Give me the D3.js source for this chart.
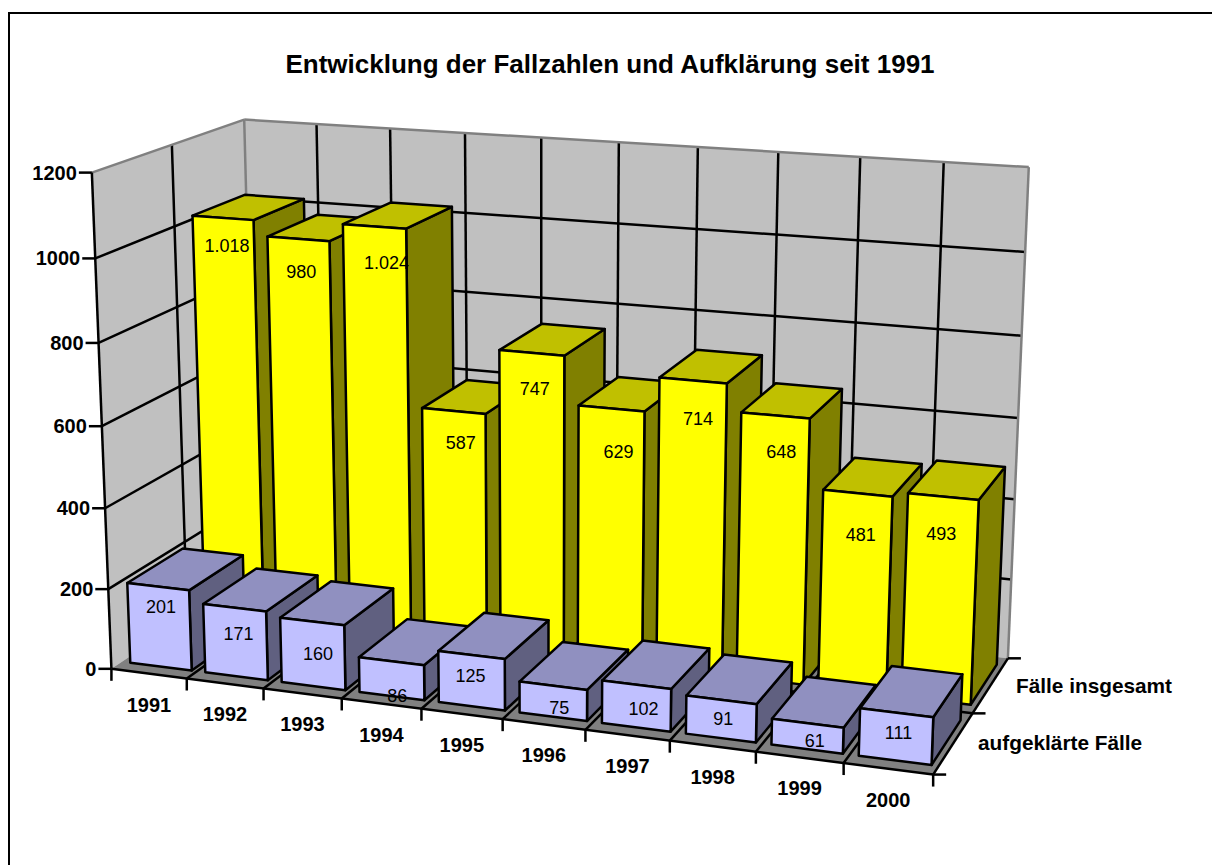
<!DOCTYPE html>
<html><head><meta charset="utf-8">
<script src="https://cdn.jsdelivr.net/npm/d3@7/dist/d3.min.js"></script>
<style>html,body{margin:0;background:#fff}svg{display:block}text{font-family:"Liberation Sans",Arial,sans-serif}</style>
</head><body><svg id="c" width="1212" height="865"></svg>
<script>
const years=["1991","1992","1993","1994","1995","1996","1997","1998","1999","2000"];
const seriesNames=["aufgeklärte Fälle","Fälle insgesamt"];
const aufgeklaert=[201,171,160,86,125,75,102,91,61,111];
const insgesamt=[1018,980,1024,587,747,629,714,648,481,493];
const insgesamtText=["1.018","980","1.024","587","747","629","714","648","481","493"];
const yTicks=[0,200,400,600,800,1000,1200];
// label nudges (px) relative to each bar's projected top-front centre
const nudgeBlue=[[3,20],[4,26],[6,33],[6,35],[-1,21],[6,22],[7,24],[2,19],[7,18],[2,20]];
const nudgeYellow=[[4,28],[3,33],[12,37],[7,32],[3,36],[7,44],[5,38],[6,37],[3,42],[-2,37]];

// camera calibration: unit box (u,v,w) -> screen, fitted projectively
const calib=[[0,0,0,112,668],[1,0,0,933,774],[1,1,0,1008,658],[1,.5,0,973,713],[0,0,1,92,172],[0,1,1,243,119],[1,1,1,1029,167],
[.5,0,0,502,720],[.1,0,0,187,680],[.9,0,0,843,764],[0,0,.5,102,425],[1,1,.5,1018,417],[0,.5,1,172,145],[.1,1,1,317,125],[.9,1,1,944,163]];
function solve(rows,rhs){const n=rows[0].length,A=d3.range(n).map(()=>new Array(n+1).fill(0));
 rows.forEach((r,k)=>{for(let i=0;i<n;i++){for(let j=0;j<n;j++)A[i][j]+=r[i]*r[j];A[i][n]+=r[i]*rhs[k];}});
 for(let i=0;i<n;i++){let p=i;for(let k=i+1;k<n;k++)if(Math.abs(A[k][i])>Math.abs(A[p][i]))p=k;[A[i],A[p]]=[A[p],A[i]];
  for(let k=0;k<n;k++)if(k!==i){const f=A[k][i]/A[i][i];for(let j=i;j<=n;j++)A[k][j]-=f*A[i][j];}}
 return A.map((r,i)=>r[n]/r[i]);}
const rows=[],rhs=[];
calib.forEach(([u,v,w,x,y])=>{rows.push([u,v,w,1,0,0,0,0,-x*u,-x*v,-x*w]);rhs.push(x);rows.push([0,0,0,0,u,v,w,1,-y*u,-y*v,-y*w]);rhs.push(y);});
const m=solve(rows,rhs);
const P=(u,v,w)=>{const d=m[8]*u+m[9]*v+m[10]*w+1;return[(m[0]*u+m[1]*v+m[2]*w+m[3])/d,(m[4]*u+m[5]*v+m[6]*w+m[7])/d];};

const zS=d3.scaleLinear().domain([0,1200]).range([0,1]);
const xB=d3.scaleBand().domain(years).range([.002,1.001]).paddingInner(.18).paddingOuter(.09);
const xG=d3.scaleBand().domain(years).range([0,1]);
const dB=d3.scaleBand().domain(seriesNames).range([0,1]).paddingInner(.27).paddingOuter(.135);
const dG=d3.scaleBand().domain(seriesNames).range([0,1]);

const svg=d3.select("#c");
const line=d3.line();
const LW=2.5;
const poly=(g,pts,fill,stroke,sw)=>g.append("path").attr("d",line(pts)+"Z").attr("fill",fill).attr("stroke",stroke||"none").attr("stroke-width",sw||0).attr("stroke-linejoin","round");
const seg=(g,a,b,stroke,sw)=>g.append("path").attr("d",line([a,b])).attr("stroke",stroke).attr("stroke-width",sw).attr("fill","none");
seg(svg,[9,13],[1212,13],"#000",2);
seg(svg,[9,12],[9,865],"#000",2);
svg.append("text").attr("x",610).attr("y",73).attr("text-anchor","middle").attr("font-weight","bold").attr("font-size",26).text("Entwicklung der Fallzahlen und Aufklärung seit 1991");

const G=svg.append("g");
// walls & floor
poly(G,[P(0,1,0),P(1,1,0),P(1,1,1),P(0,1,1)],"#c0c0c0");
poly(G,[P(0,0,0),P(0,1,0),P(0,1,1),P(0,0,1)],"#c0c0c0");
poly(G,[P(0,0,0),P(1,0,0),P(1,1,0),P(0,1,0)],"#808080");
// grid
yTicks.slice(1,-1).forEach(t=>{const w=zS(t);seg(G,P(0,0,w),P(0,1,w),"#000",LW);seg(G,P(0,1,w),P(1,1,w),"#000",LW);});
const us=years.slice(1).map(y=>xG(y));
us.forEach(u=>{seg(G,P(u,1,0),P(u,1,1),"#000",LW);seg(G,P(u,0,0),P(u,1,0),"#000",LW);});
const vMid=dG(seriesNames[1]);
seg(G,P(0,vMid,0),P(0,vMid,1),"#000",LW);seg(G,P(0,vMid,0),P(1,vMid,0),"#000",LW);
// gray wall edges
[[P(0,0,1),P(0,1,1)],[P(0,1,1),P(1,1,1)],[P(1,1,1),P(1,1,0)],[P(0,1,1),P(0,1,0)]].forEach(e=>seg(G,e[0],e[1],"#808080",LW));
// axis lines
seg(G,P(0,0,0),P(0,0,1),"#000",LW);seg(G,P(0,0,0),P(1,0,0),"#000",LW);seg(G,P(1,0,0),P(1,1,0),"#000",LW);
// y ticks
yTicks.forEach(t=>{const p=P(0,0,zS(t));seg(G,[p[0]-13,p[1]],p,"#000",LW);
 G.append("text").attr("x",p[0]-15).attr("y",p[1]+7).attr("text-anchor","end").attr("font-weight","bold").attr("font-size",20).text(t);});
// x ticks
[0,...us,1].forEach(u=>{const p=P(u,0,0);seg(G,p,[p[0],p[1]+12],"#000",LW);});
years.forEach(y=>{const p=P(xG(y)+xG.bandwidth()/2,0,0);
 G.append("text").attr("x",p[0]).attr("y",p[1]+38).attr("text-anchor","middle").attr("font-weight","bold").attr("font-size",20).text(y);});
// depth ticks
[0,vMid,1].forEach(v=>{const p=P(1,v,0);seg(G,p,[p[0]+13,p[1]],"#000",LW);});
seriesNames.forEach(s=>{
 G.append("text").attr("x",s===seriesNames[1]?1016:978).attr("y",s===seriesNames[1]?693:750).attr("font-weight","bold").attr("font-size",20.8).text(s);});

function bars(name,vals,cols){
 const v0=dB(name),v1=v0+dB.bandwidth();
 years.forEach((y,i)=>{const u0=xB(y),u1=u0+xB.bandwidth(),w=zS(vals[i]);
  const g=G.append("g");
  poly(g,[P(u1,v0,0),P(u1,v1,0),P(u1,v1,w),P(u1,v0,w)],cols[2],"#000",LW);
  poly(g,[P(u0,v0,w),P(u1,v0,w),P(u1,v1,w),P(u0,v1,w)],cols[1],"#000",LW);
  poly(g,[P(u0,v0,0),P(u1,v0,0),P(u1,v0,w),P(u0,v0,w)],cols[0],"#000",LW);
 });
}
bars(seriesNames[1],insgesamt,["#ffff00","#c0c000","#808000"]);
bars(seriesNames[0],aufgeklaert,["#c0c0ff","#9090c0","#606080"]);
function labels(name,vals,texts,nudge){
 const v0=dB(name);
 years.forEach((y,i)=>{const p=P(xB(y)+xB.bandwidth()/2,v0,zS(vals[i]));
  G.append("text").attr("x",p[0]+nudge[i][0]).attr("y",p[1]+nudge[i][1]+6).attr("text-anchor","middle").attr("font-size",18).attr("fill","#000").text(texts[i]);});
}
labels(seriesNames[1],insgesamt,insgesamtText,nudgeYellow);
labels(seriesNames[0],aufgeklaert,aufgeklaert.map(String),nudgeBlue);
</script></body></html>
